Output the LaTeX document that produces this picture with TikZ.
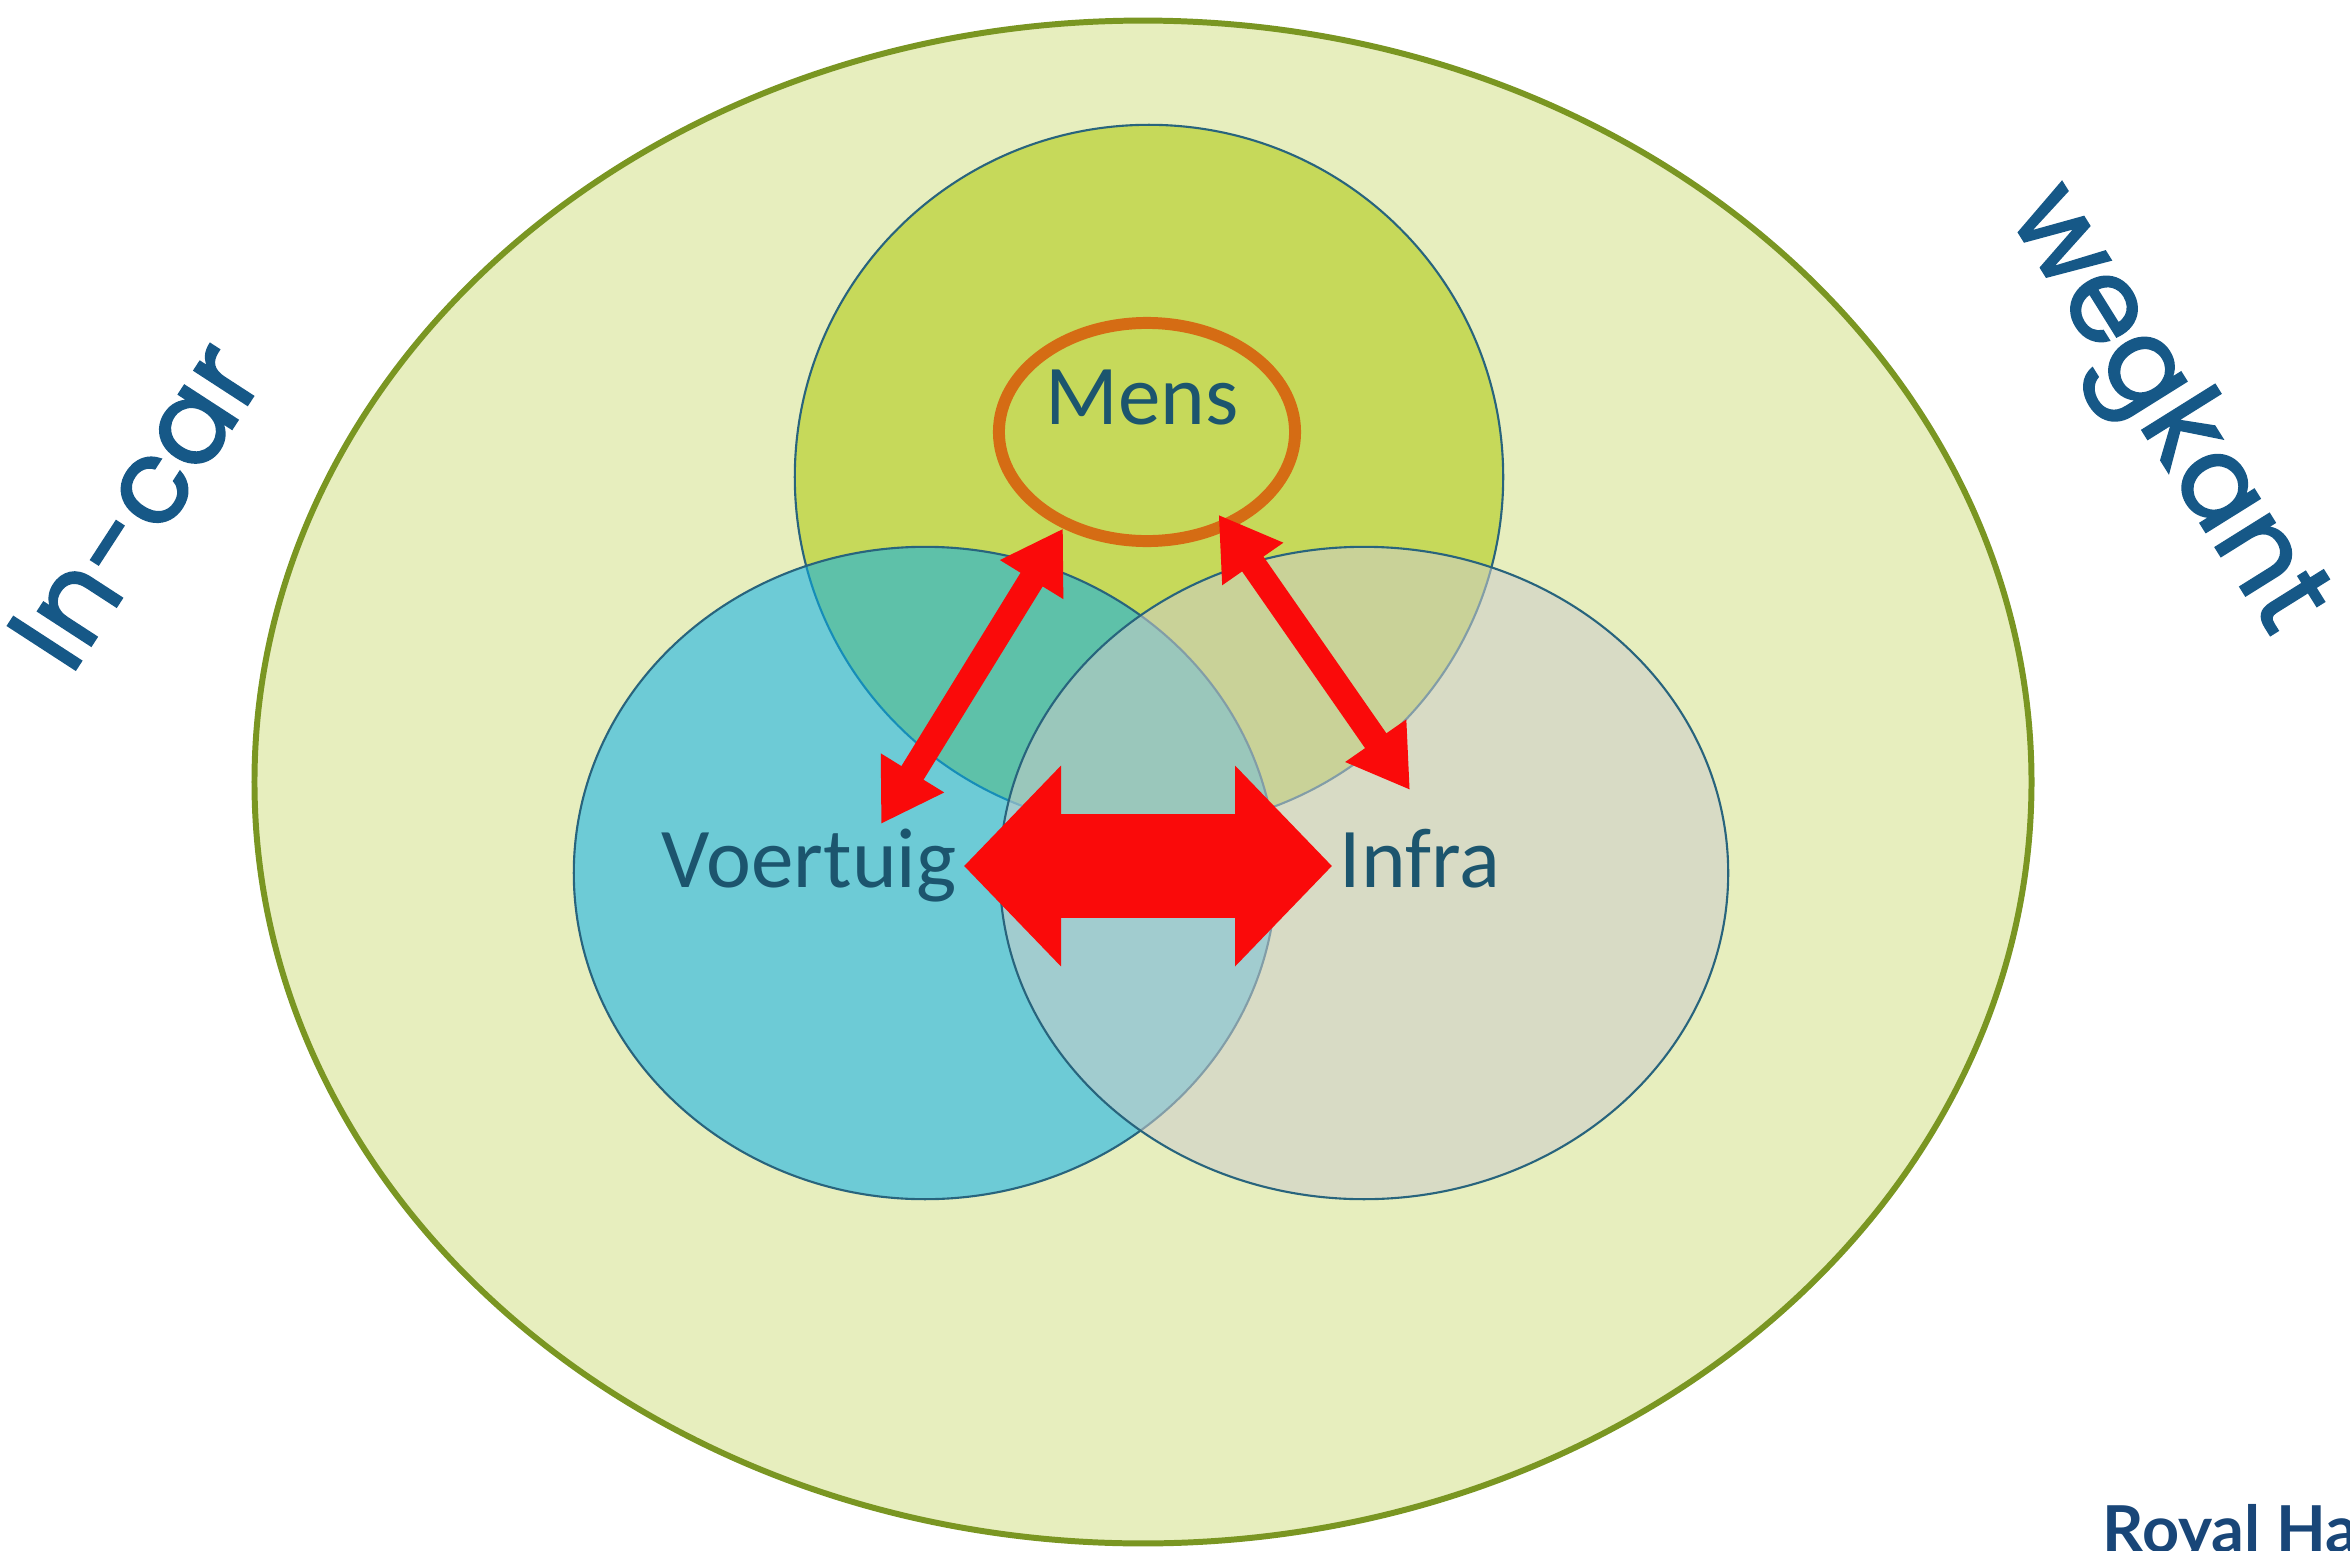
\documentclass[tikz,border=0pt]{standalone}
\usepackage{fontspec}
\setmainfont{Carlito}
\newfontfamily\geofont[FakeBold=1.6]{Poppins}
\newfontfamily\logofont{Lato}
\usepackage{tikz}
\usetikzlibrary{arrows.meta,shapes.geometric}
\definecolor{paleleaf}{RGB}{231,238,190}
\definecolor{olivegreen}{RGB}{122,150,34}
\definecolor{limegreen}{RGB}{198,217,90}
\definecolor{skyblue}{RGB}{9,175,234}
\definecolor{stonegrey}{RGB}{205,205,203}
\definecolor{rimteal}{RGB}{40,100,125}
\definecolor{ringorange}{RGB}{213,108,20}
\definecolor{inkteal}{RGB}{28,85,110}
\definecolor{inkblue}{RGB}{22,88,135}
\definecolor{logoblue}{RGB}{25,70,120}
\definecolor{arrowred}{RGB}{250,10,10}

\begin{document}
\begin{tikzpicture}[x=0.01cm,y=-0.01cm,
  field/.style={ellipse,draw=olivegreen,line width=1.7pt,fill=paleleaf,inner sep=0pt,
                minimum width=17.76cm,minimum height=15.22cm},
  disc/.style={ellipse,draw=rimteal,line width=0.6pt,inner sep=0pt},
  ring/.style={ellipse,draw=ringorange,line width=3.4pt,inner sep=0pt,
               minimum width=2.96cm,minimum height=2.18cm},
  word/.style={text=inkteal,inner sep=2pt,font=\fontsize{24.2}{28}\selectfont},
  side/.style={text=inkblue,font=\geofont\fontsize{33}{38}\selectfont},
  % the three links between the domains: two thin ones to Mens, one fat one below
  link/.style={arrowred,line width=0.26cm,
               {Triangle[length=0.6cm,width=0.7cm]}-{Triangle[length=0.6cm,width=0.7cm]}},
  fat/.style={arrowred,line width=1.04cm,
              {Triangle[length=0.97cm,width=1.95cm]}-{Triangle[length=0.97cm,width=1.95cm]}}]

\useasboundingbox (0,0) rectangle (2350,1551);

\node[field] (veld) at (1143,782) {};

\node[disc,fill=limegreen,minimum width=7.08cm,minimum height=7.04cm] (top) at (1149,477) {};
\node[disc,fill=skyblue,fill opacity=0.55,minimum width=7.02cm,minimum height=6.52cm] (left) at (925,873) {};
\node[disc,fill=stonegrey,fill opacity=0.55,minimum width=7.28cm,minimum height=6.52cm] (right) at (1364,873) {};

\node[ring] (ring) at (1147,432) {};
\node[word] (mens)  at (1142,398) {Mens};
\node[word] (voer)  at (809,866)  {Voertuig};
\node[word] (infra) at (1420,859) {Infra};

\coordinate (vtip) at (881,824);
\coordinate (itip) at (1410,790);

\draw[link] (ring.229) -- (vtip);
\draw[link,shorten <=-0.18cm] (ring.310) -- (itip);
\draw[fat] (voer.east) -- (voer.east -| infra.west);

\node[side,rotate=57]  (incar) at (135,505)  {In-car};
\node[side,rotate=-58] (weg)   at (2163,412) {wegkant};

\node[anchor=base west,text=logoblue,inner sep=0pt,font=\logofont\bfseries\fontsize{18.4}{20}\selectfont]
  (logo) at (2102,1552) {Royal Ha};
\end{tikzpicture}
\end{document}
